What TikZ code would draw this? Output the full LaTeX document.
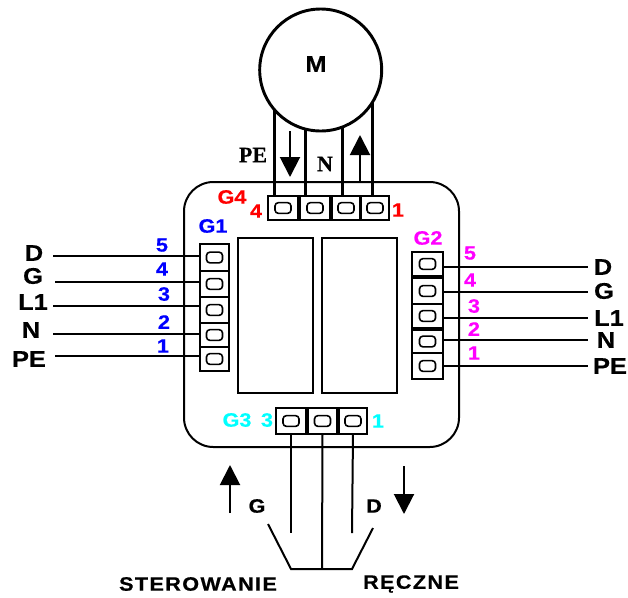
\documentclass[tikz,border=0pt]{standalone}
\usepackage{fontspec}
\setmainfont[FakeStretch=1.12, BoldFeatures={FakeBold=0.5}]{Liberation Sans}
\newfontfamily\szeryf[BoldFeatures={FakeBold=0.5}]{Liberation Serif}
\usepackage{tikz}
\usetikzlibrary{arrows.meta}
\definecolor{g1color}{RGB}{0,0,255}
\definecolor{g2color}{RGB}{255,0,255}
\definecolor{g3color}{RGB}{0,255,255}
\definecolor{g4color}{RGB}{255,0,0}
\tikzset{
    zacisk/.style={draw, rectangle, line width=1.5pt, inner sep=0pt, outer sep=0pt},
    pad/.style={draw, rectangle, rounded corners=2.5pt, line width=1.2pt, minimum width=12pt, minimum height=8pt, inner sep=0pt},
    przekaznik/.style={draw, rectangle, line width=1.5pt, minimum width=56.25pt, minimum height=116.25pt, inner sep=0pt, outer sep=0pt},
    opis/.style={font=\bfseries\fontsize{17}{17}\selectfont, inner sep=0pt},
    numer/.style={font=\bfseries\fontsize{14.5}{14.5}\selectfont, inner sep=0pt},
    napis/.style={font=\bfseries\fontsize{14.5}{14.5}\selectfont\addfontfeature{LetterSpace=7}, inner sep=0pt},
    szeryfowy/.style={font=\szeryf\bfseries\fontsize{16.5}{16.5}\selectfont, inner sep=0pt},
    przewod/.style={line width=1.5pt},
    grot/.style={line width=1.5pt, -{Triangle[length=15pt, width=15pt]}}
}

\begin{document}
\begin{tikzpicture}[x=0.75pt, y=-0.75pt]
    \useasboundingbox (0,0) rectangle (628,597);

    % Obudowa
    \node[draw, rectangle, rounded corners=22pt, line width=1.5pt, minimum width=206.25pt, minimum height=198.75pt, inner sep=0pt, outer sep=0pt] (obudowa) at (321.5,314.5) {};
    \node[przekaznik] (rel1) at (275.5,315.5) {};
    \node[przekaznik] (rel2) at (359.5,315.5) {};

    % Silnik
    \node[draw, circle, minimum size=91.5pt, line width=2.2pt, inner sep=0pt, outer sep=0pt] (silnik) at (320.7,70) {};
    \node[opis] (silnikM) at (316,64) {M};

    % Zlacze G4
    \node[zacisk, minimum width=22.5pt, minimum height=18pt] (g4a) at (283,208) {};
    \node[pad] (g4ap) at (g4a) {};
    \node[zacisk, minimum width=22.5pt, minimum height=18pt] (g4b) at (315,208) {};
    \node[pad] (g4bp) at (g4b) {};
    \node[zacisk, minimum width=21pt, minimum height=18pt] (g4c) at (346,208) {};
    \node[pad] (g4cp) at (g4c) {};
    \node[zacisk, minimum width=21pt, minimum height=18pt] (g4d) at (375,208) {};
    \node[pad] (g4dp) at (g4d) {};
    \node[numer, text=g4color] (g4t) at (232,197) {G4};
    \node[numer, text=g4color] (g4n4) at (256,211) {4};
    \node[numer, text=g4color] (g4n1) at (398,210) {1};

    % Przewody silnika
    \draw[line width=2.2pt] (silnik.221) -- (silnik.221 |- g4a.north);
    \draw[line width=2.2pt] (silnik.256) -- (silnik.256 |- g4b.north);
    \draw[line width=2.2pt] (silnik.291) -- (silnik.291 |- g4c.north);
    \draw[line width=2.2pt] (silnik.328) -- (silnik.328 |- g4d.north);
    \node[szeryfowy] (silnikPE) at (253,155) {PE};
    \node[szeryfowy] (silnikN) at (325,164) {N};
    \coordinate (s1) at (290,131);
    \coordinate (s2) at (290,177);
    \coordinate (s3) at (360,182);
    \coordinate (s4) at (360,135);
    \draw[grot] (s1) -- (s2);
    \draw[grot] (s3) -- (s4);

    % Zlacze G1
    \node[zacisk, minimum width=21.75pt, minimum height=20.25pt] (g1a) at (214.5,257.5) {};
    \node[pad] (g1ap) at (g1a) {};
    \node[zacisk, minimum width=21.75pt, minimum height=19.5pt] (g1b) at (214.5,284) {};
    \node[pad] (g1bp) at (g1b) {};
    \node[zacisk, minimum width=21.75pt, minimum height=19.5pt] (g1c) at (214.5,310) {};
    \node[pad] (g1cp) at (g1c) {};
    \node[zacisk, minimum width=21.75pt, minimum height=18pt] (g1d) at (214.5,335) {};
    \node[pad] (g1dp) at (g1d) {};
    \node[zacisk, minimum width=21.75pt, minimum height=18pt] (g1e) at (214.5,359) {};
    \node[pad] (g1ep) at (g1e) {};
    \node[numer, text=g1color] (g1t) at (213,226) {G1};

    % Wyprowadzenia G1
    \node[opis] (lD) at (34,253) {D};
    \node[opis] (lG) at (33,276) {G};
    \node[opis] (lL) at (33,302) {L1};
    \node[opis] (lN) at (31,330) {N};
    \node[opis] (lPE) at (29,359) {PE};
    \coordinate (la) at (53,256);
    \coordinate (lb) at (55,282);
    \coordinate (lc) at (53,306);
    \coordinate (ld) at (53,334);
    \coordinate (le) at (55,356);
    \draw[przewod] (la) -- (la -| g1a.west);
    \draw[przewod] (lb) -- (lb -| g1b.west);
    \draw[przewod] (lc) -- (lc -| g1c.west);
    \draw[przewod] (ld) -- (ld -| g1d.west);
    \draw[przewod] (le) -- (le -| g1e.west);
    \node[numer, text=g1color] (g1n5) at (162,245) {5};
    \node[numer, text=g1color] (g1n4) at (162,269) {4};
    \node[numer, text=g1color] (g1n3) at (164,294) {3};
    \node[numer, text=g1color] (g1n2) at (164,322) {2};
    \node[numer, text=g1color] (g1n1) at (163,346) {1};

    % Zlacze G2
    \node[zacisk, minimum width=23.25pt, minimum height=18pt] (g2a) at (427.5,264) {};
    \node[pad] (g2ap) at (g2a) {};
    \node[zacisk, minimum width=23.25pt, minimum height=19.5pt] (g2b) at (427.5,291) {};
    \node[pad] (g2bp) at (g2b) {};
    \node[zacisk, minimum width=23.25pt, minimum height=18pt] (g2c) at (427.5,316) {};
    \node[pad] (g2cp) at (g2c) {};
    \node[zacisk, minimum width=23.25pt, minimum height=17.25pt] (g2d) at (427.5,341.5) {};
    \node[pad] (g2dp) at (g2d) {};
    \node[zacisk, minimum width=23.25pt, minimum height=19.5pt] (g2e) at (427.5,366) {};
    \node[pad] (g2ep) at (g2e) {};
    \node[numer, text=g2color] (g2t) at (428,238) {G2};

    % Wyprowadzenia G2
    \node[opis] (pD) at (603,267) {D};
    \node[opis] (pG) at (604,291) {G};
    \node[opis] (pL) at (609,318) {L1};
    \node[opis] (pN) at (606,340) {N};
    \node[opis] (pPE) at (610,366) {PE};
    \coordinate (pa) at (588,267);
    \coordinate (pb) at (588,292);
    \coordinate (pc) at (588,318);
    \coordinate (pd) at (588,340);
    \coordinate (pe) at (588,366);
    \draw[przewod] (g2a.east |- pa) -- (pa);
    \draw[przewod] (g2b.east |- pb) -- (pb);
    \draw[przewod] (g2c.east |- pc) -- (pc);
    \draw[przewod] (g2d.east |- pd) -- (pd);
    \draw[przewod] (g2e.east |- pe) -- (pe);
    \node[numer, text=g2color] (g2n5) at (470,253) {5};
    \node[numer, text=g2color] (g2n4) at (470,280) {4};
    \node[numer, text=g2color] (g2n3) at (474,306) {3};
    \node[numer, text=g2color] (g2n2) at (474,329) {2};
    \node[numer, text=g2color] (g2n1) at (474,353) {1};

    % Zlacze G3
    \node[zacisk, minimum width=22.5pt, minimum height=19.5pt] (g3a) at (291,421) {};
    \node[pad] (g3ap) at (g3a) {};
    \node[zacisk, minimum width=21.75pt, minimum height=19.5pt] (g3b) at (322.5,421) {};
    \node[pad] (g3bp) at (g3b) {};
    \node[zacisk, minimum width=21pt, minimum height=19.5pt] (g3c) at (353,421) {};
    \node[pad] (g3cp) at (g3c) {};
    \node[numer, text=g3color] (g3t) at (237,420) {G3};
    \node[numer, text=g3color] (g3n3) at (267,420) {3};
    \node[numer, text=g3color] (g3n1) at (378,421) {1};

    % Przelacznik
    \coordinate (k1) at (291,533);
    \coordinate (k2) at (322,569);
    \coordinate (k3) at (352,533);
    \coordinate (z1) at (268,524);
    \coordinate (z2) at (291,569);
    \coordinate (z3) at (352,569);
    \coordinate (z4) at (373,528);
    \draw[przewod] (g3a.south) -- (k1);
    \draw[przewod] (g3b.south) -- (k2);
    \draw[przewod] (g3c.south) -- (k3);
    \draw[przewod] (z1) -- (z2) -- (z3) -- (z4);
    \coordinate (a1) at (230,513);
    \coordinate (a2) at (230,465);
    \coordinate (a3) at (404,466);
    \coordinate (a4) at (404,514);
    \draw[grot] (a1) -- (a2);
    \draw[grot] (a3) -- (a4);
    \node[numer] (kG) at (257,506) {G};
    \node[numer] (kD) at (374,506) {D};
    \node[napis] (napis1) at (198,584) {STEROWANIE};
    \node[napis] (napis2) at (411,584) {RĘCZNE};
\end{tikzpicture}
\end{document}
